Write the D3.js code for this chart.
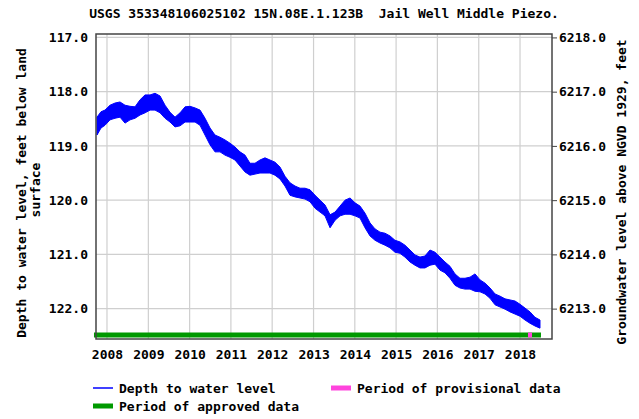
<!DOCTYPE html>
<html>
<head>
<meta charset="utf-8">
<script src="https://cdn.jsdelivr.net/npm/d3@7"></script>
<style>
  body { margin: 0; background: #fff; }
  text { font-family: "DejaVu Sans Mono", monospace; font-weight: bold; font-size: 13px; fill: #000; white-space: pre; }
</style>
</head>
<body>
<div id="b1"></div>
<script>
// 読み取った値（10年ちょっとの水位）
const years = [
  2007.758, 2007.855, 2007.952, 2008.073, 2008.194, 2008.315, 2008.436, 2008.557, 2008.678, 2008.799,
  2008.920, 2009.041, 2009.162, 2009.283, 2009.404, 2009.525, 2009.646, 2009.768, 2009.889, 2010.010,
  2010.131, 2010.252, 2010.373, 2010.494, 2010.615, 2010.736, 2010.857, 2010.978, 2011.099, 2011.220,
  2011.341, 2011.462, 2011.584, 2011.705, 2011.826, 2011.947, 2012.068, 2012.189, 2012.310, 2012.431,
  2012.552, 2012.673, 2012.794, 2012.915, 2013.036, 2013.157, 2013.278, 2013.400, 2013.521, 2013.642,
  2013.763, 2013.884, 2014.005, 2014.126, 2014.247, 2014.368, 2014.489, 2014.610, 2014.731, 2014.852,
  2014.973, 2015.094, 2015.215, 2015.337, 2015.458, 2015.579, 2015.700, 2015.821, 2015.942, 2016.063,
  2016.184, 2016.305, 2016.426, 2016.547, 2016.668, 2016.789, 2016.910, 2017.031, 2017.152, 2017.274,
  2017.395, 2017.516, 2017.637, 2017.758, 2017.879, 2018.000, 2018.121, 2018.242, 2018.363, 2018.484
];
// 浅い側（グラフの上端）
const depthTop = [
  118.47, 118.37, 118.34, 118.25, 118.21, 118.19, 118.25, 118.27, 118.28, 118.15,
  118.06, 118.06, 118.03, 118.08, 118.25, 118.38, 118.47, 118.39, 118.28, 118.27,
  118.30, 118.34, 118.49, 118.67, 118.80, 118.84, 118.89, 118.95, 119.02, 119.11,
  119.17, 119.32, 119.32, 119.26, 119.22, 119.26, 119.30, 119.39, 119.56, 119.68,
  119.74, 119.78, 119.78, 119.81, 119.91, 120.00, 120.09, 120.27, 120.22, 120.11,
  120.00, 119.96, 120.05, 120.11, 120.24, 120.42, 120.53, 120.59, 120.61, 120.66,
  120.74, 120.77, 120.83, 120.92, 121.01, 121.05, 121.03, 120.92, 120.96, 121.05,
  121.14, 121.22, 121.36, 121.44, 121.44, 121.42, 121.36, 121.47, 121.53, 121.62,
  121.73, 121.77, 121.82, 121.84, 121.86, 121.92, 121.99, 122.06, 122.16, 122.21
];
// 深い側（グラフの下端）
const depthBottom = [
  118.80, 118.67, 118.62, 118.52, 118.49, 118.47, 118.58, 118.52, 118.49, 118.43,
  118.39, 118.34, 118.34, 118.39, 118.49, 118.56, 118.65, 118.63, 118.56, 118.56,
  118.56, 118.62, 118.80, 118.98, 119.11, 119.11, 119.17, 119.21, 119.26, 119.37,
  119.48, 119.54, 119.52, 119.50, 119.50, 119.50, 119.54, 119.61, 119.74, 119.91,
  119.94, 119.96, 119.98, 120.03, 120.15, 120.22, 120.29, 120.51, 120.37, 120.29,
  120.26, 120.26, 120.29, 120.33, 120.51, 120.66, 120.74, 120.79, 120.83, 120.88,
  120.96, 120.98, 121.05, 121.14, 121.20, 121.25, 121.25, 121.20, 121.18, 121.29,
  121.34, 121.44, 121.57, 121.62, 121.64, 121.64, 121.68, 121.69, 121.73, 121.81,
  121.93, 121.97, 122.01, 122.06, 122.10, 122.14, 122.21, 122.27, 122.32, 122.36
];

// 承認済み・暫定データの期間
const approvedPeriod = [2007.685, 2018.508];
const provisionalPeriod = [2018.194, 2018.290];

const depthTicks = [117, 118, 119, 120, 121, 122];
const elevTicks = [6213, 6214, 6215, 6216, 6217, 6218];
const yearTicks = [2008, 2009, 2010, 2011, 2012, 2013, 2014, 2015, 2016, 2017, 2018];
const landSurface = 6335;   // 標高 = 6335 - 深さ

const title = "USGS 353348106025102 15N.08E.1.123B  Jail Well Middle Piezo.";
const leftLabel = ["Depth to water level, feet below land", "surface"];
const rightLabel = "Groundwater level above NGVD 1929, feet";

const width = 639;
const height = 419;
const margin = {top: 34, right: 87, bottom: 80, left: 96};

// 小数の年 → Date
const toDate = (t) => {
    const y = Math.floor(t);
    const start = new Date(y, 0, 1);
    const end = new Date(y + 1, 0, 1);
    return new Date(+start + (t - y) * (end - start));
};

const chart = () => {
    const svg = d3.create("svg")
        .attr("width", width)
        .attr("height", height)
        .attr("viewBox", [0, 0, width, height])
    ;

    const x = d3.scaleTime()
        .domain([toDate(2007.734), toDate(2018.775)])
        .range([margin.left, width - margin.right])
    ;
    const y = d3.scaleLinear()
        .domain([116.937, 122.56])
        .range([margin.top, height - margin.bottom])
    ;
    const yElev = d3.scaleLinear()
        .domain(y.domain().map(d => landSurface - d))
        .range(y.range())
    ;

    // グリッド
    const grid = svg.append("g")
        .attr("stroke", "#cfcfcf")
        .attr("stroke-width", 1.2)
    ;
    grid.selectAll("line.v")
        .data(yearTicks)
        .join("line")
            .attr("class", "v")
            .attr("x1", d => x(toDate(d)))
            .attr("x2", d => x(toDate(d)))
            .attr("y1", margin.top)
            .attr("y2", height - margin.bottom)
    ;
    grid.selectAll("line.h")
        .data(depthTicks)
        .join("line")
            .attr("class", "h")
            .attr("x1", margin.left)
            .attr("x2", width - margin.right)
            .attr("y1", d => y(d))
            .attr("y2", d => y(d))
    ;

    // 水位の帯
    const data = years.map((t, i) => ({date: toDate(t), top: depthTop[i], bottom: depthBottom[i]}));
    const area = d3.area()
        .x(d => x(d.date))
        .y0(d => y(d.bottom))
        .y1(d => y(d.top))
    ;
    svg.append("path")
        .datum(data)
        .attr("fill", "#0000ff")
        .attr("stroke", "#0000ff")
        .attr("stroke-width", 1)
        .attr("d", area)
    ;

    // 期間バー
    const barY = height - margin.bottom - 4;
    svg.append("line")
        .attr("x1", x(toDate(approvedPeriod[0])))
        .attr("x2", x(toDate(approvedPeriod[1])))
        .attr("y1", barY).attr("y2", barY)
        .attr("stroke", "#009900")
        .attr("stroke-width", 5)
    ;
    svg.append("line")
        .attr("x1", x(toDate(provisionalPeriod[0])))
        .attr("x2", x(toDate(provisionalPeriod[1])))
        .attr("y1", barY).attr("y2", barY)
        .attr("stroke", "#ff44dd")
        .attr("stroke-width", 5)
    ;

    // 枠
    svg.append("rect")
        .attr("x", margin.left)
        .attr("y", margin.top)
        .attr("width", width - margin.left - margin.right)
        .attr("height", height - margin.top - margin.bottom)
        .attr("fill", "none")
        .attr("stroke", "#444")
        .attr("stroke-width", 1.5)
    ;

    // 軸
    svg.append("g")
        .attr("transform", `translate(${margin.left},0)`)
        .call(d3.axisLeft(y).tickValues(depthTicks).tickFormat(d3.format(".1f")).tickSize(0).tickPadding(8))
        .call(g => g.select(".domain").remove())
        .selectAll("text").attr("font-size", null).attr("font-family", null)
    ;
    svg.append("g")
        .attr("transform", `translate(${width - margin.right},0)`)
        .call(d3.axisRight(yElev).tickValues(elevTicks).tickFormat(d3.format(".1f")).tickSize(5).tickPadding(2))
        .call(g => g.select(".domain").remove())
        .call(g => g.selectAll("line").attr("stroke", "#444"))
        .selectAll("text").attr("font-size", null).attr("font-family", null)
    ;
    svg.append("g")
        .attr("transform", `translate(0,${height - margin.bottom})`)
        .call(d3.axisBottom(x).tickValues(yearTicks.map(toDate)).tickFormat(d3.timeFormat("%Y")).tickSize(0).tickPadding(11))
        .call(g => g.select(".domain").remove())
        .selectAll("text").attr("font-size", null).attr("font-family", null)
    ;

    // タイトル（二重スペースを残す）
    svg.append("text")
        .attr("x", (margin.left + width - margin.right) / 2)
        .attr("y", 18)
        .attr("text-anchor", "middle")
        .attr("xml:space", "preserve")
        .text(title)
    ;

    // 縦軸ラベル
    svg.append("text")
        .attr("transform", "translate(26,193) rotate(-90)")
        .attr("text-anchor", "middle")
        .text(leftLabel[0])
    ;
    svg.append("text")
        .attr("transform", "translate(40,190) rotate(-90)")
        .attr("text-anchor", "middle")
        .text(leftLabel[1])
    ;
    svg.append("text")
        .attr("transform", "translate(626,192) rotate(-90)")
        .attr("text-anchor", "middle")
        .text(rightLabel)
    ;

    // 凡例
    const legend = [
        {label: "Depth to water level", color: "#0000ff", w: 1.5, x: 93, y: 388},
        {label: "Period of provisional data", color: "#ff44dd", w: 5, x: 331, y: 388},
        {label: "Period of approved data", color: "#009900", w: 5, x: 93, y: 406}
    ];
    const lg = svg.append("g")
        .selectAll("g")
        .data(legend)
        .join("g")
            .attr("transform", d => `translate(${d.x},${d.y})`)
    ;
    lg.append("line")
        .attr("x1", 0).attr("x2", 20)
        .attr("stroke", d => d.color)
        .attr("stroke-width", d => d.w)
    ;
    lg.append("text")
        .attr("x", 26)
        .attr("dy", "0.35em")
        .text(d => d.label)
    ;

    return svg.node();
};

document.getElementById("b1").append(chart());
</script>
</body>
</html>
